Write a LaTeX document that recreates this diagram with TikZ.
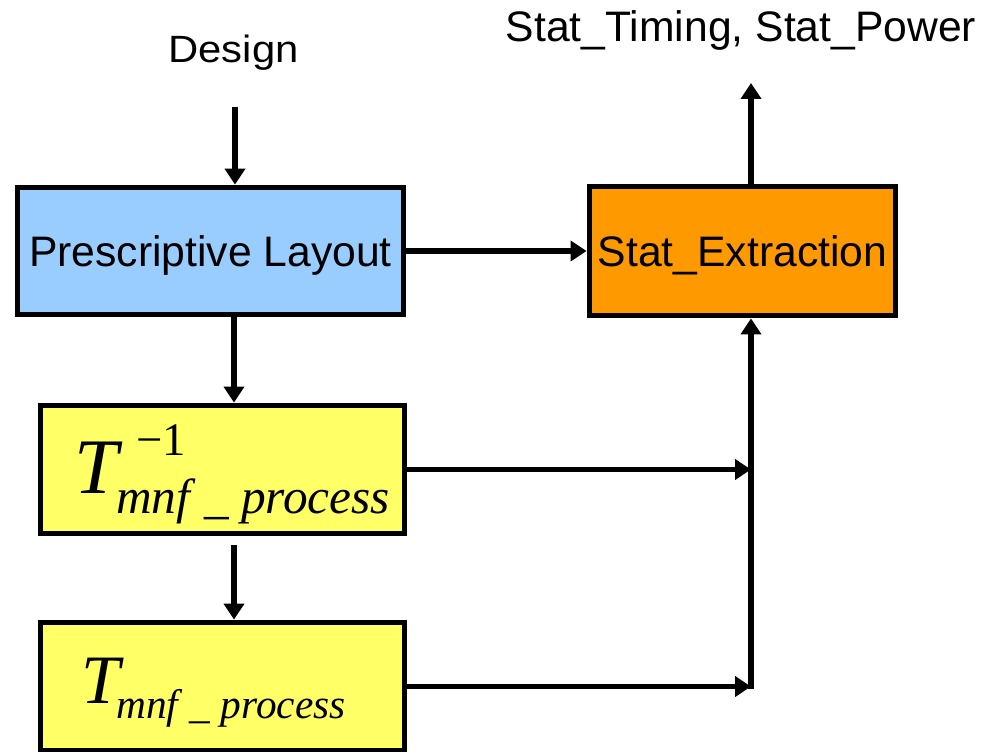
\documentclass[tikz,border=0pt]{standalone}
\usepackage{fontspec}
\setmainfont{Liberation Sans}
\newfontfamily\tnr{Liberation Serif}
\usetikzlibrary{arrows.meta}
\definecolor{boxblue}{HTML}{99CCFF}
\definecolor{boxorange}{HTML}{FF9900}
\definecolor{boxyellow}{HTML}{FFFF66}
\begin{document}
\begin{tikzpicture}[x=0.75pt,y=-0.75pt,
  box/.style={draw=black,line width=4.4pt,inner sep=0pt,text height=27pt,text depth=3pt,font=\fontsize{32}{36}\selectfont},
  conn/.style={line width=4.1pt,-{Triangle[length=12pt,width=15pt]}},
  lbl/.style={inner sep=0pt,font=\fontsize{32}{36}\selectfont},
  mathbig/.style={inner sep=0pt,anchor=base west}]
\useasboundingbox (0,0) rectangle (984,752);
\clip (0,0) rectangle (984,752);
% boxes
\node[box,fill=boxblue,minimum width=289.5pt,minimum height=95.25pt] (layout) at (210.5,251) {Prescriptive Layout};
\node[box,fill=boxorange,minimum width=229.5pt,minimum height=96.75pt] (stat) at (742.5,251) {Stat\_Extraction};
\node[box,fill=boxyellow,minimum width=273pt,minimum height=96pt] (inv) at (222.5,469.5) {};
\node[box,fill=boxyellow,minimum width=273pt,minimum height=96pt] (fwd) at (222.5,686.5) {};
% plain labels
\node[lbl,anchor=base] (design) at (233.5,63) {\scalebox{1.1}[1]{\fontsize{28.5}{30}\selectfont Design}};
\node[lbl,anchor=base] (result) at (741,42) {Stat\_Timing, Stat\_Power};
% math-like labels
\node[mathbig,font=\tnr\itshape\fontsize{59}{60}\selectfont] (t1) at (74,493) {T};
\node[mathbig,font=\tnr\fontsize{35}{40}\selectfont] (t1sup) at (136,455) {−1};
\node[mathbig,font=\tnr\itshape\fontsize{37}{40}\selectfont] (t1sub) at (116,513) {mnf\hspace{0.28em}\_\hspace{0.25em}process};
\node[mathbig,font=\tnr\itshape\fontsize{52}{54}\selectfont] (t2) at (81,703) {T};
\node[mathbig,font=\tnr\itshape\fontsize{31}{34}\selectfont] (t2sub) at (116,718) {mnf\hspace{0.28em}\_\hspace{0.25em}process};
% connectors
\coordinate (dstart) at (235,107);
\coordinate (cx) at (234,0);
\coordinate (cv) at (751,0);
\coordinate (top) at (751,83);
\draw[conn] (dstart) -- (dstart |- layout.north);
\draw[conn] (layout.south -| cx) -- (inv.north -| cx);
\draw[conn,shorten <=6.4pt] (inv.south -| cx) -- (fwd.north -| cx);
\draw[conn] (layout.east) -- (stat.west);
\draw[conn] (stat.north -| cv) -- (top);
\coordinate (j1) at (inv.east -| cv);
\coordinate (j2) at (fwd.east -| cv);
\draw[conn] (inv.east) -- (j1);
\draw[conn] (fwd.east) -- (j2);
\draw[conn] ([yshift=-2pt]j2) -- (stat.south -| cv);
\end{tikzpicture}
\end{document}
